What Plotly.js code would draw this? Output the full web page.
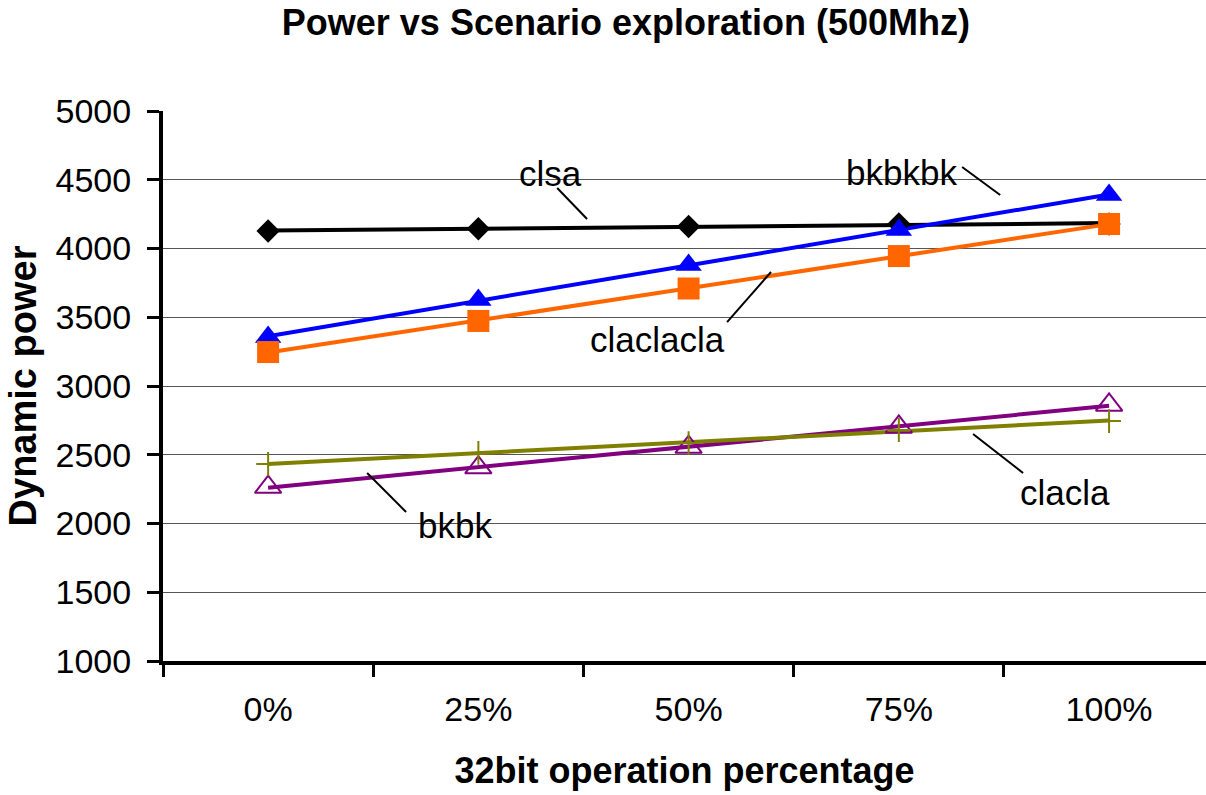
<!DOCTYPE html>
<html>
<head>
<meta charset="utf-8">
<script src="https://cdn.plot.ly/plotly-3.0.1.min.js"></script>
<style>html,body{margin:0;padding:0;background:#fff;}#chart{width:1206px;height:795px;}</style>
</head>
<body>
<div id="chart"></div>
<script>
// ---- data ----
const categories = ["0%", "25%", "50%", "75%", "100%"];
const clsa      = [4127, 4144, 4160, 4178, 4178];
const bkbkbk    = [3356, 3625, 3880, 4135, 4390];
const claclacla = [3247, 3473, 3709, 3945, 4178];
const bkbk      = [2265, 2407, 2556, 2702, 2862];
const clacla    = [2433, 2513, 2585, 2680, 2745];
const seriesNames = ["clsa", "bkbkbk", "claclacla", "bkbk", "clacla"];
const yTicks = [1000, 1500, 2000, 2500, 3000, 3500, 4000, 4500, 5000];

// ---- styles ----
const styles = [
  {color: "#000000", symbol: "diamond", size: 18, lw: 0},
  {color: "#0000FF", symbol: "triangle-up", size: 23, lw: 0},
  {color: "#FF6600", symbol: "square", size: 22, lw: 0},
  {color: "#800080", symbol: "triangle-up-open", size: 23, lw: 2},
  {color: "#808000", symbol: "cross-thin-open", size: 17, lw: 2}
];
const allSeries = [clsa, bkbkbk, claclacla, bkbk, clacla];

// least-squares linear trendline (Excel-style) from the series values
function trend(vals) {
  const n = vals.length;
  const xs = vals.map((_, i) => i);
  const mx = xs.reduce((a, b) => a + b, 0) / n;
  const my = vals.reduce((a, b) => a + b, 0) / n;
  let num = 0, den = 0;
  for (let i = 0; i < n; i++) { num += (xs[i] - mx) * (vals[i] - my); den += (xs[i] - mx) ** 2; }
  const m = num / den, b = my - m * mx;
  return xs.map(x => b + m * x);
}

const traces = [];
allSeries.forEach((vals, i) => {
  traces.push({
    x: categories, y: trend(vals), type: "scatter", mode: "lines",
    line: {color: styles[i].color, width: 4}, showlegend: false, hoverinfo: "skip",
    name: seriesNames[i] + " trend"
  });
});
allSeries.forEach((vals, i) => {
  const s = styles[i];
  traces.push({
    x: categories, y: vals, type: "scatter", mode: "markers", name: seriesNames[i],
    marker: {symbol: s.symbol, size: s.size, color: s.color,
             line: {color: s.color, width: s.lw}},
    showlegend: false
  });
});

const font = "Liberation Sans, Arial, sans-serif";

// label positions (category index, value) and leader lines
const labels = [
  {text: "clsa",      x: 1.341, y: 4549, lx0: 1.375, ly0: 4440, lx1: 1.517, ly1: 4215},
  {text: "bkbkbk",    x: 3.015, y: 4555, lx0: 3.301, ly0: 4593, lx1: 3.482, ly1: 4389},
  {text: "claclacla", x: 1.850, y: 3335, lx0: 2.183, ly0: 3465, lx1: 2.392, ly1: 3829},
  {text: "bkbk",      x: 0.889, y: 1989, lx0: 0.471, ly0: 2367, lx1: 0.656, ly1: 2084},
  {text: "clacla",    x: 3.791, y: 2222, lx0: 3.353, ly0: 2651, lx1: 3.591, ly1: 2367}
];

const layout = {
  width: 1206, height: 795,
  margin: {l: 163, r: 0, t: 111, b: 134, pad: 0},
  paper_bgcolor: "#ffffff", plot_bgcolor: "#ffffff",
  font: {family: font, color: "#000"},
  title: {text: "<b>Power vs Scenario exploration (500Mhz)</b>",
          font: {family: font, size: 36, color: "#000"},
          x: 0.519, xanchor: "center", y: 0.972, yanchor: "middle"},
  xaxis: {
    type: "category", categoryarray: categories, range: [-0.5, 4.461],
    showline: true, linecolor: "#000", linewidth: 4,
    ticks: "outside", tickson: "boundaries", ticklen: 12, tickwidth: 3, tickcolor: "#000",
    showgrid: false, zeroline: false,
    tickfont: {family: font, size: 34, color: "#000"}, ticklabelstandoff: 15,
    title: {text: "<b>32bit operation percentage</b>", font: {family: font, size: 36, color: "#000"}, standoff: 32}
  },
  yaxis: {
    range: [1000, 5000], tickvals: yTicks, ticktext: yTicks.map(String),
    showline: true, linecolor: "#000", linewidth: 4,
    ticks: "outside", ticklen: 12, tickwidth: 3, tickcolor: "#000",
    showgrid: true, gridcolor: "#555", gridwidth: 1, zeroline: false,
    tickfont: {family: font, size: 34, color: "#000"}, ticklabelstandoff: 9,
    title: {text: "<b>Dynamic power</b>", font: {family: font, size: 38, color: "#000"}, standoff: 8}
  },
  annotations: labels.map(l => ({
    x: l.x, y: l.y, xref: "x", yref: "y", text: l.text, showarrow: false,
    font: {family: font, size: 35, color: "#000"}, xanchor: "center", yanchor: "middle"
  })),
  shapes: labels.map(l => ({
    type: "line", xref: "x", yref: "y", x0: l.lx0, y0: l.ly0, x1: l.lx1, y1: l.ly1,
    line: {color: "#000", width: 2}
  }))
};

Plotly.newPlot("chart", traces, layout, {displayModeBar: false, staticPlot: true});
</script>
</body>
</html>
